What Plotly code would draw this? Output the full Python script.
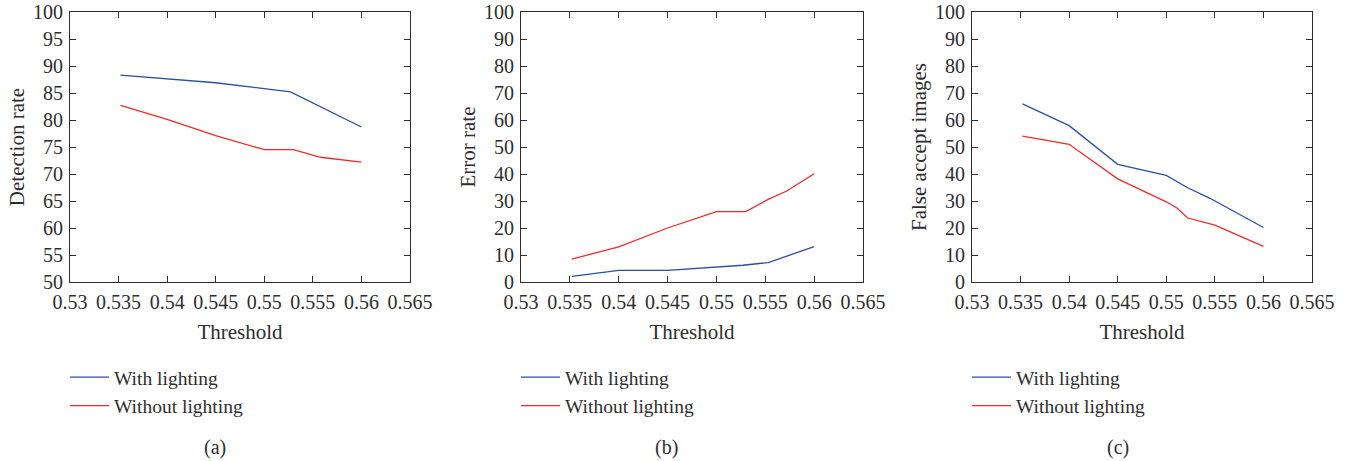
import plotly.graph_objects as go

# ---------------- data ----------------
x_a_with = [0.5352, 0.540, 0.545, 0.550, 0.5527, 0.560]
y_a_with = [88.3, 87.6, 86.9, 85.8, 85.2, 78.7]
x_a_without = [0.5352, 0.540, 0.545, 0.550, 0.5530, 0.5558, 0.560]
y_a_without = [82.7, 80.1, 77.1, 74.5, 74.5, 73.1, 72.2]

x_b_with = [0.5352, 0.540, 0.545, 0.550, 0.5527, 0.5553, 0.560]
y_b_with = [2.1, 4.3, 4.3, 5.4, 6.2, 7.2, 13.1]
x_b_without = [0.5352, 0.540, 0.545, 0.550, 0.5530, 0.5553, 0.5572, 0.560]
y_b_without = [8.5, 13.0, 20.0, 26.1, 26.1, 30.6, 33.7, 40.1]

x_c_with = [0.5352, 0.540, 0.545, 0.550, 0.5522, 0.5545, 0.560]
y_c_with = [66.0, 57.9, 43.6, 39.5, 34.9, 31.0, 20.2]
x_c_without = [0.5352, 0.540, 0.545, 0.550, 0.5511, 0.5522, 0.5550, 0.560]
y_c_without = [54.0, 51.0, 38.2, 29.7, 27.4, 23.7, 21.1, 13.2]

x_tickvals = [0.53, 0.535, 0.54, 0.545, 0.55, 0.555, 0.56, 0.565]
x_ticktext = ["0.53", "0.535", "0.54", "0.545", "0.55", "0.555", "0.56", "0.565"]
y_ticks_a = list(range(50, 101, 5))
y_ticks_bc = list(range(0, 101, 10))

y_titles = ["Detection rate", "Error rate", "False accept images"]
x_title = "Threshold"
panel_labels = ["(a)", "(b)", "(c)"]
series_names = ["With lighting", "Without lighting"]

# ---------------- layout ----------------
W, H = 1349, 461
BLUE = "#2b4ea4"
RED = "#f02a2a"
FONT = "Liberation Serif"
TXT = "#2e2e2e"
panels_px = [(70, 410), (521, 863), (972, 1312)]
top_px, bot_px = 12, 282
label_x_px = [215, 666, 1118]

fig = go.Figure()

data = [
    (x_a_with, y_a_with, x_a_without, y_a_without),
    (x_b_with, y_b_with, x_b_without, y_b_without),
    (x_c_with, y_c_with, x_c_without, y_c_without),
]

for i, (xw, yw, xo, yo) in enumerate(data):
    sfx = "" if i == 0 else str(i + 1)
    leg = "legend" if i == 0 else f"legend{i + 1}"
    fig.add_trace(go.Scatter(x=xw, y=yw, mode="lines", name=series_names[0],
                             line=dict(color=BLUE, width=1.3),
                             xaxis="x" + sfx, yaxis="y" + sfx, legend=leg))
    fig.add_trace(go.Scatter(x=xo, y=yo, mode="lines", name=series_names[1],
                             line=dict(color=RED, width=1.3),
                             xaxis="x" + sfx, yaxis="y" + sfx, legend=leg))

axis_common = dict(showline=True, linecolor=TXT, linewidth=1.2, mirror="ticks",
                   ticks="inside", ticklen=6, tickcolor=TXT, tickwidth=1.2,
                   showgrid=False, zeroline=False, automargin=False,
                   ticklabelstandoff=2,
                   tickfont=dict(family=FONT, size=20, color=TXT))

layout = dict(width=W, height=H, margin=dict(l=0, r=0, t=0, b=0, autoexpand=False),
              paper_bgcolor="white", plot_bgcolor="white",
              font=dict(family=FONT, size=20, color=TXT))


def px_x(x):
    return x / W


def px_y(y):
    return 1 - y / H


annotations = []
for i, (l, r) in enumerate(panels_px):
    sfx = "" if i == 0 else str(i + 1)
    xa = dict(axis_common, domain=[px_x(l), px_x(r)], range=[0.53, 0.565],
              tickvals=x_tickvals, ticktext=x_ticktext,
              title=dict(text=x_title, font=dict(family=FONT, size=21, color=TXT), standoff=12),
              anchor="y" + sfx)
    yticks = y_ticks_a if i == 0 else y_ticks_bc
    ya = dict(axis_common, domain=[px_y(bot_px), px_y(top_px)],
              range=[yticks[0], yticks[-1]], tickvals=yticks,
              title=dict(text=y_titles[i], font=dict(family=FONT, size=21, color=TXT), standoff=2),
              anchor="x" + sfx)
    layout["xaxis" + sfx] = xa
    layout["yaxis" + sfx] = ya
    leg = "legend" if i == 0 else f"legend{i + 1}"
    layout[leg] = dict(x=px_x(l - 5), xanchor="left", y=px_y(358), yanchor="top",
                       bgcolor="rgba(0,0,0,0)", tracegroupgap=0, itemwidth=39,
                       font=dict(family=FONT, size=19.5, color=TXT))
    annotations.append(dict(text=panel_labels[i], x=px_x(label_x_px[i]), y=px_y(447),
                            xref="paper", yref="paper", showarrow=False,
                            xanchor="center", yanchor="middle",
                            font=dict(family=FONT, size=20, color=TXT)))

layout["annotations"] = annotations
layout["showlegend"] = True
fig.update_layout(**layout)

# remove the default 8px page margin so the figure fills the window exactly
fig.write_html("out.html", config={"displayModeBar": False},
               post_script="document.body.style.margin='0px';")
